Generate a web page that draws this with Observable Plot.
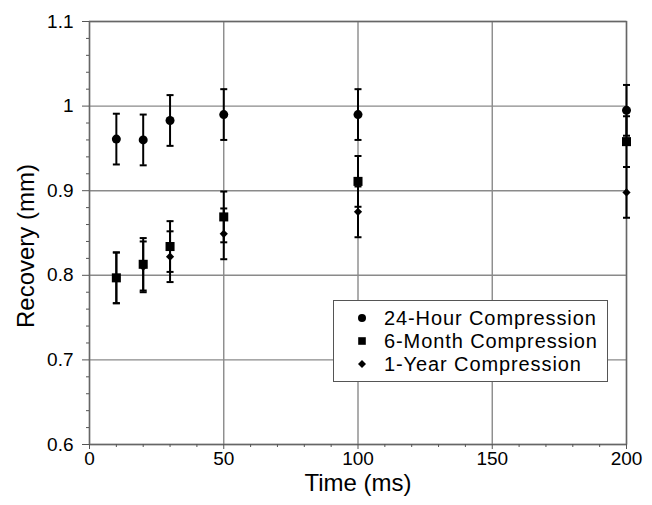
<!DOCTYPE html>
<html>
<head>
<meta charset="utf-8">
<script src="https://cdn.jsdelivr.net/npm/d3@7"></script>
<script src="https://cdn.jsdelivr.net/npm/@observablehq/plot@0.6"></script>
<style>
  html, body { margin: 0; padding: 0; background: #fff; }
  #wrap { position: relative; width: 652px; height: 505px; overflow: hidden; font-family: "Liberation Sans", Arial, Helvetica, sans-serif; }
  #legend { position: absolute; left: 333px; top: 300px; width: 275px; height: 82px; box-sizing: border-box; border: 1.3px solid #555; background: #fff; }
</style>
</head>
<body>
<div id="wrap"></div>
<script>
// ---- data ----
const time = [10, 20, 30, 50, 100, 200];
const seriesNames = ["24-Hour Compression", "6-Month Compression", "1-Year Compression"];
const hour24 = [0.961, 0.960, 0.983, 0.990, 0.990, 0.995];
const month6 = [0.797, 0.813, 0.834, 0.869, 0.911, 0.958];
const year1  = [0.797, 0.810, 0.822, 0.849, 0.875, 0.898];
const err24  = [0.030, 0.030, 0.030, 0.030, 0.030, 0.030];
const err6m  = [0.030, 0.031, 0.030, 0.030, 0.030, 0.030];
const err1y  = [0.030, 0.030, 0.030, 0.030, 0.030, 0.030];
const xTicks = [0, 50, 100, 150, 200];
const xTickLabels = ["0", "50", "100", "150", "200"];
const xMinor = [10, 20, 30, 40, 60, 70, 80, 90, 110, 120, 130, 140, 160, 170, 180, 190];
const yTicks = [0.6, 0.7, 0.8, 0.9, 1.0, 1.1];
const yTickLabels = ["0.6", "0.7", "0.8", "0.9", "1", "1.1"];
const yMinor = [0.62, 0.64, 0.66, 0.68, 0.72, 0.74, 0.76, 0.78, 0.82, 0.84, 0.86, 0.88,
                0.92, 0.94, 0.96, 0.98, 1.02, 1.04, 1.06, 1.08];
const xLabel = "Time (ms)";
const yLabel = "Recovery (mm)";

// ---- build rows ----
const valuesBySeries = [hour24, month6, year1];
const errBySeries = [err24, err6m, err1y];
const symbols = ["circle", "square", "diamond2"];
const radii = [4.5, 5.1, 3.7];
const rows = [];
seriesNames.forEach((s, k) => {
  time.forEach((t, i) => {
    const v = valuesBySeries[k][i], e = errBySeries[k][i];
    rows.push({series: s, k, time: t, value: v, lo: v - e, hi: v + e});
  });
});

const capSymbol = {draw(ctx) { ctx.moveTo(-3.5, 0); ctx.lineTo(3.5, 0); }};

const axisColor = "#555";
const gridColor = "#8a8a8a";

const chart = Plot.plot({
  width: 652,
  height: 505,
  marginLeft: 89,
  marginRight: 26,
  marginTop: 21,
  marginBottom: 61,
  x: {domain: [0, 200]},
  y: {domain: [0.6, 1.1]},
  style: {fontFamily: "'Liberation Sans', Arial, Helvetica, sans-serif", fontSize: "19px", color: "#000", background: "#fff", overflow: "visible"},
  marks: [
    Plot.gridX(xTicks, {stroke: gridColor, strokeOpacity: 1, strokeWidth: 1.4}),
    Plot.gridY(yTicks, {stroke: gridColor, strokeOpacity: 1, strokeWidth: 1.4}),
    Plot.frame({stroke: "#666", strokeWidth: 1.4}),
    Plot.axisX(xMinor, {tickSize: 3, text: null, label: null, stroke: axisColor}),
    Plot.axisX(xTicks, {tickSize: 5, tickPadding: 2, label: null, stroke: axisColor, fill: "#000",
      tickFormat: d => xTickLabels[xTicks.indexOf(d)]}),
    Plot.axisY(yMinor, {tickSize: 3, text: null, label: null, stroke: axisColor}),
    Plot.axisY(yTicks, {tickSize: 7, tickPadding: 9, label: null, stroke: axisColor, fill: "#000",
      tickFormat: d => yTickLabels[yTicks.findIndex(t => Math.abs(t - d) < 1e-9)]}),
    Plot.text([xLabel], {frameAnchor: "bottom", dy: 46, lineAnchor: "bottom", text: d => d, fontSize: 24, fill: "#000"}),
    Plot.text([yLabel], {frameAnchor: "left", textAnchor: "middle", rotate: -90, dx: -63, dy: 13, text: d => d, fontSize: 24, fill: "#000"}),
    Plot.ruleX(rows, {x: "time", y1: "lo", y2: "hi", stroke: "#000", strokeWidth: 2}),
    Plot.dot(rows, {x: "time", y: "lo", symbol: capSymbol, stroke: "#000", strokeWidth: 2, fill: "none", r: 3}),
    Plot.dot(rows, {x: "time", y: "hi", symbol: capSymbol, stroke: "#000", strokeWidth: 2, fill: "none", r: 3}),
    ...seriesNames.map((s, k) => Plot.dot(rows.filter(d => d.k === k), {
      x: "time", y: "value", symbol: symbols[k], r: radii[k], fill: "#000", stroke: "none"
    }))
  ]
});

const wrap = document.getElementById("wrap");
wrap.appendChild(chart);

// ---- legend overlay ----
const legend = document.createElement("div");
legend.id = "legend";
wrap.appendChild(legend);
const lsvg = d3.select(legend).append("svg").attr("width", 273).attr("height", 80)
  .style("position", "absolute").style("left", "0px").style("top", "0px");
const d3Symbols = [d3.symbolCircle, d3.symbolSquare, d3.symbolDiamond2];
const legendSizes = [Math.PI * 4 * 4, 7.6 * 7.6, Math.PI * 3.6 * 3.6];
const rowY = [17, 40, 63];
seriesNames.forEach((s, k) => {
  lsvg.append("path")
    .attr("d", d3.symbol(d3Symbols[k], legendSizes[k])())
    .attr("transform", `translate(28,${rowY[k]})`)
    .attr("fill", "#000");
  lsvg.append("text")
    .attr("x", 50).attr("y", rowY[k]).attr("dy", "0.36em")
    .attr("font-size", 20)
    .attr("letter-spacing", "0.9px")
    .attr("font-family", "'Liberation Sans', Arial, Helvetica, sans-serif")
    .attr("fill", "#000")
    .text(s);
});
</script>
</body>
</html>
